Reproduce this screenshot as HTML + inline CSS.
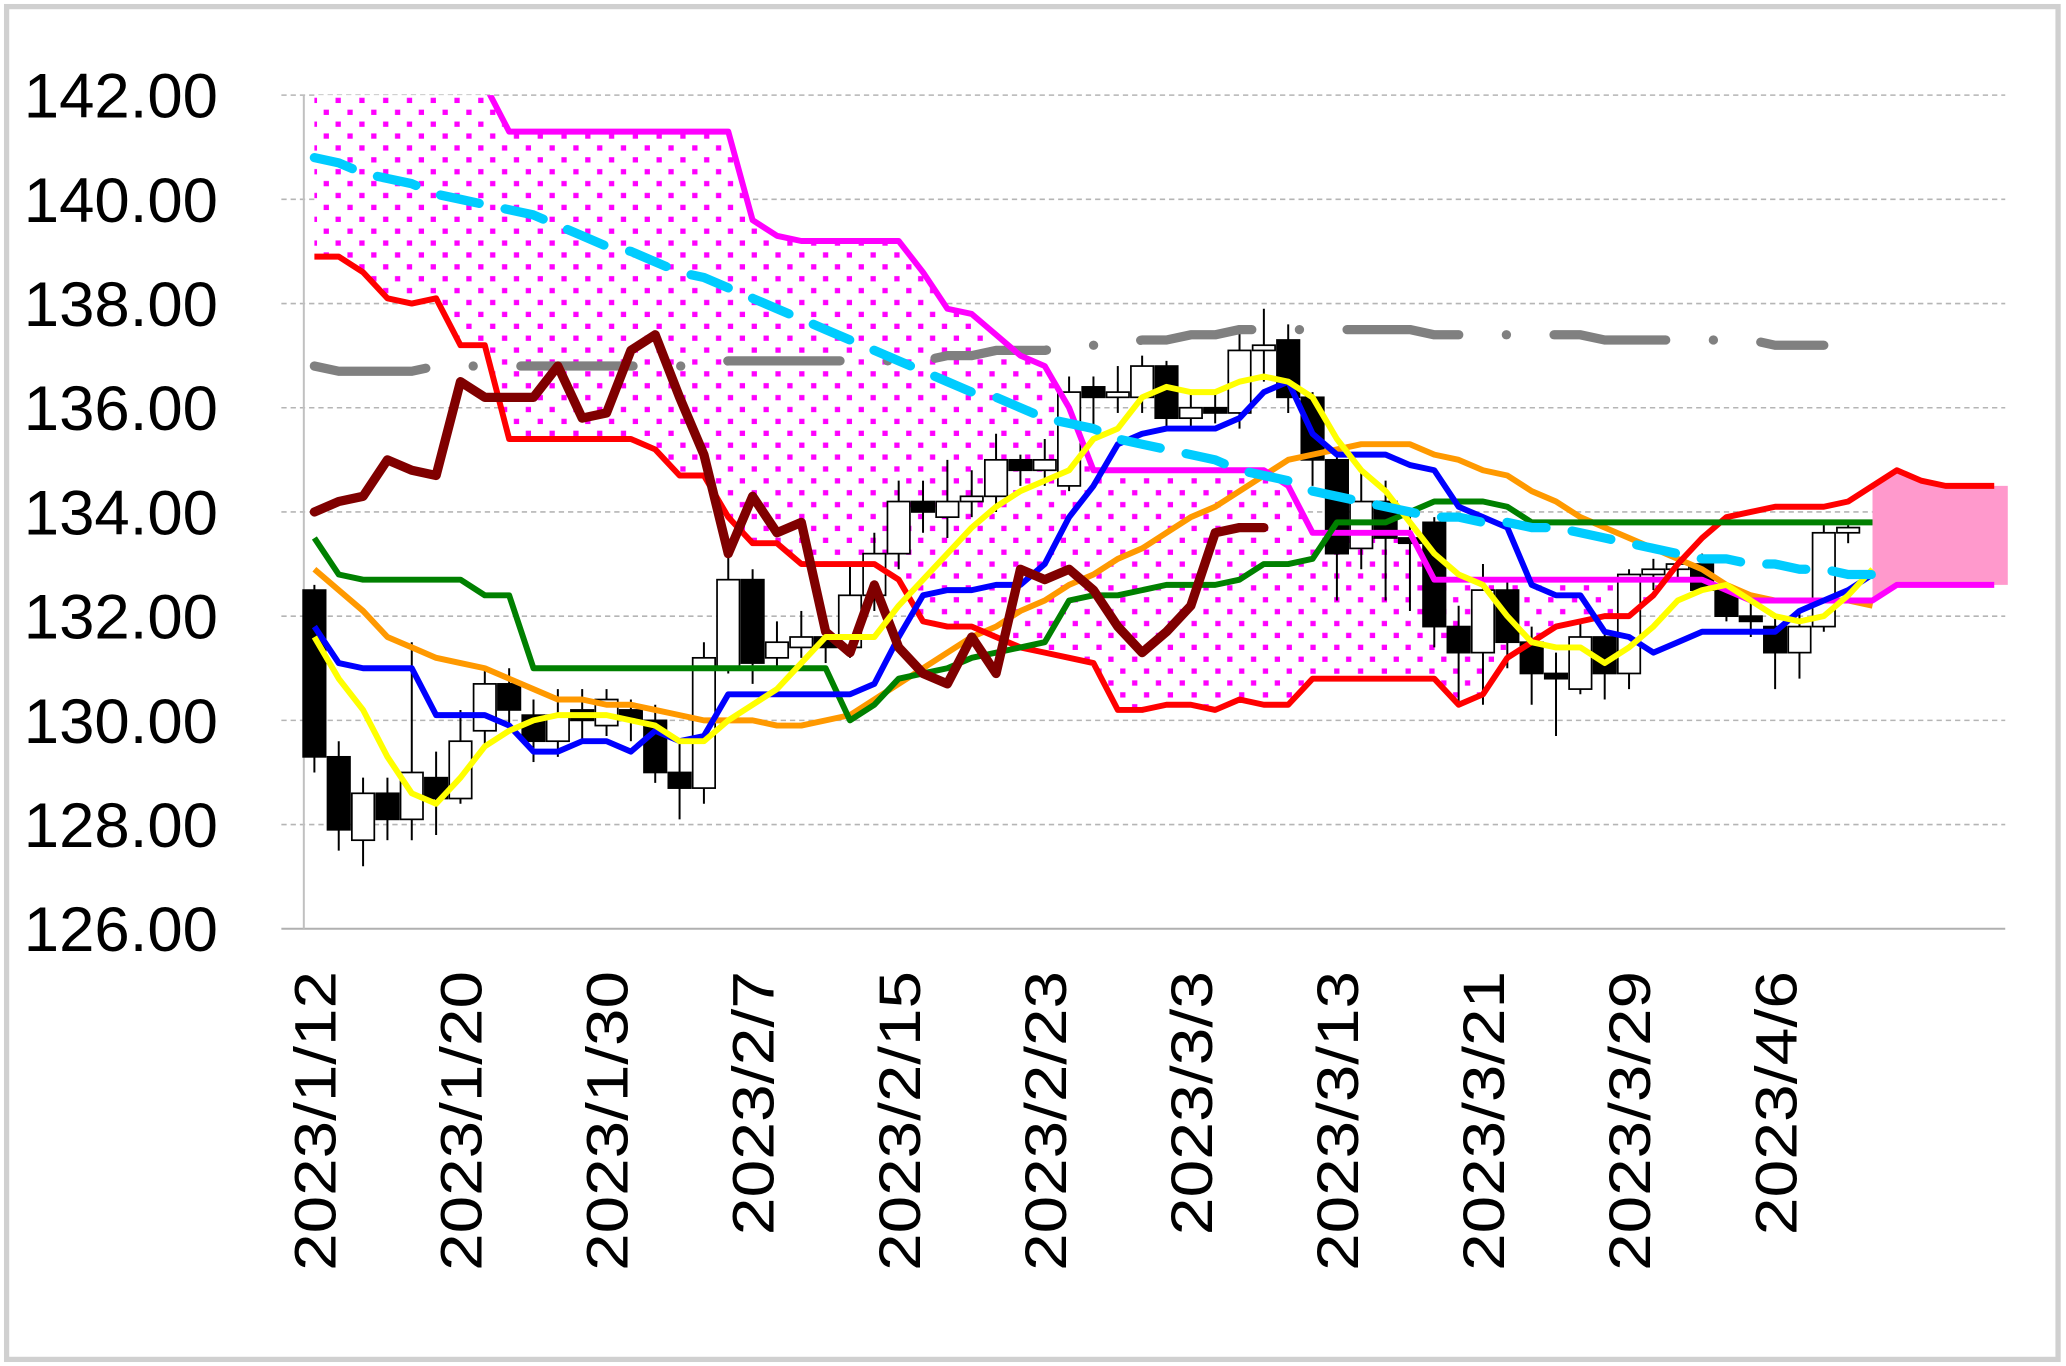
<!DOCTYPE html>
<html><head><meta charset="utf-8"><style>
html,body{margin:0;padding:0;background:#fff;}
svg{display:block;}
</style></head><body>
<svg id="chart" width="2066" height="1366" viewBox="0 0 1564 1034" preserveAspectRatio="none" xmlns="http://www.w3.org/2000/svg" font-family="'Liberation Sans', 'Noto Sans CJK JP', sans-serif">
<defs>
<pattern id="dots" width="18" height="18" patternUnits="userSpaceOnUse">
<rect width="18" height="18" fill="#fff"/>
<rect x="2" y="2" width="4" height="4" fill="#ff00ff"/>
<rect x="11" y="11" width="4" height="4" fill="#ff00ff"/>
</pattern>
<clipPath id="plotclip"><rect x="230" y="72" width="1290" height="632"/></clipPath>
</defs>
<rect x="5" y="5" width="1553" height="1024" fill="#fff" stroke="#d0d0d0" stroke-width="4"/>
<g id="grid"></g>
<g id="cloud" clip-path="url(#plotclip)"></g>
<g id="candles"></g>
<g id="lines" clip-path="url(#plotclip)"></g>
<g id="labels"></g>
</svg>
<script>
const yTicks = [142,140,138,136,134,132,130,128,126];
const dateLabels = ["2023/1/12","2023/1/20","2023/1/30","2023/2/7","2023/2/15","2023/2/23","2023/3/3","2023/3/13","2023/3/21","2023/3/29","2023/4/6"];
const openV  = [132.5,129.3,127.7,128.6,128.1,128.9,128.5,129.8,130.7,130.1,129.6,130.2,129.9,130.2,130.0,129.0,128.7,131.0,132.7,131.2,131.4,131.6,131.4,132.4,133.2,134.2,133.9,134.2,134.3,135.0,134.8,134.5,136.4,136.2,136.2,136.8,135.8,136.0,135.9,137.1,137.3,136.2,135.0,133.3,134.2,133.5,133.8,131.8,131.3,132.5,131.5,130.9,130.6,131.6,130.9,132.8,132.9,133.0,132.5,132.0,131.8,131.3,131.8,133.6];
const closeV = [129.3,127.9,128.6,128.1,129.0,128.5,129.6,130.7,130.2,129.6,130.1,130.0,130.4,130.0,129.0,128.7,131.2,132.7,131.1,131.5,131.6,131.4,132.4,133.2,134.2,134.0,134.2,134.3,135.0,134.8,135.0,136.3,136.2,136.3,136.8,135.8,136.0,135.9,137.1,137.2,136.2,135.0,133.2,134.2,133.5,133.4,131.8,131.3,132.5,131.5,130.9,130.8,131.6,130.9,132.8,132.9,133.0,132.5,132.0,131.9,131.3,131.8,133.6,133.7];
const highV  = [132.6,129.6,128.9,128.9,131.5,129.4,130.2,131.0,131.0,130.4,130.6,130.6,130.6,130.4,130.3,129.6,131.5,133.3,132.9,131.9,132.1,132.0,133.0,133.6,134.6,134.6,135.0,134.8,135.5,135.1,135.4,136.6,136.6,136.8,137.0,136.9,136.3,136.3,137.5,137.9,137.6,136.3,135.2,134.8,134.6,134.0,133.9,132.2,133.0,132.7,131.8,131.3,131.9,131.7,132.9,133.1,133.1,133.2,132.6,132.3,132.0,132.1,133.8,133.8];
const lowV   = [129.0,127.5,127.2,127.7,127.7,127.8,128.4,129.5,129.9,129.2,129.3,129.6,129.7,129.6,128.8,128.1,128.4,130.9,130.7,131.0,131.2,131.1,131.2,132.1,132.9,133.6,133.5,133.9,134.0,134.5,134.5,134.4,135.6,135.9,135.9,135.6,135.6,135.7,135.6,136.5,135.9,134.5,132.3,132.9,132.3,132.1,131.4,130.3,130.3,131.0,130.3,129.7,130.5,130.4,130.6,132.5,132.7,132.5,131.9,131.6,130.6,130.8,131.7,133.4];
const tenkan = [131.8,131.1,131.0,131.0,131.0,130.1,130.1,130.1,129.9,129.4,129.4,129.6,129.6,129.4,129.8,129.6,129.7,130.5,130.5,130.5,130.5,130.5,130.5,130.7,131.6,132.4,132.5,132.5,132.6,132.6,133.0,133.9,134.5,135.3,135.5,135.6,135.6,135.6,135.8,136.3,136.5,135.5,135.1,135.1,135.1,134.9,134.8,134.1,133.9,133.7,132.6,132.4,132.4,131.7,131.6,131.3,131.5,131.7,131.7,131.7,131.7,132.1,132.3,132.5,132.8];
const kijun = [133.5,132.8,132.7,132.7,132.7,132.7,132.7,132.4,132.4,131.0,131.0,131.0,131.0,131.0,131.0,131.0,131.0,131.0,131.0,131.0,131.0,131.0,130.0,130.3,130.8,130.9,131.0,131.2,131.3,131.4,131.5,132.3,132.4,132.4,132.5,132.6,132.6,132.6,132.7,133.0,133.0,133.1,133.8,133.8,133.8,134.0,134.2,134.2,134.2,134.1,133.8,133.8,133.8,133.8,133.8,133.8,133.8,133.8,133.8,133.8,133.8,133.8,133.8,133.8,133.8];
const spanA = [138.9,138.9,138.6,138.1,138.0,138.1,137.2,137.2,135.4,135.4,135.4,135.4,135.4,135.4,135.2,134.7,134.7,133.9,133.4,133.4,133.0,133.0,133.0,133.0,132.7,131.9,131.8,131.8,131.6,131.4,131.3,131.2,131.1,130.2,130.2,130.3,130.3,130.2,130.4,130.3,130.3,130.8,130.8,130.8,130.8,130.8,130.8,130.3,130.5,131.2,131.5,131.8,131.9,132.0,132.0,132.4,133.0,133.5,133.9,134.0,134.1,134.1,134.1,134.2,134.5,134.8,134.6,134.5,134.5,134.5];
const spanB = [143.5,143.5,143.5,143.5,143.5,143.5,143.5,142.2,141.3,141.3,141.3,141.3,141.3,141.3,141.3,141.3,141.3,141.3,139.6,139.3,139.2,139.2,139.2,139.2,139.2,138.6,137.9,137.8,137.4,137.0,136.8,136.0,134.8,134.8,134.8,134.8,134.8,134.8,134.8,134.8,134.5,133.6,133.6,133.6,133.6,133.6,132.7,132.7,132.7,132.7,132.7,132.7,132.7,132.7,132.7,132.7,132.7,132.7,132.5,132.3,132.3,132.3,132.3,132.3,132.3,132.6,132.6,132.6,132.6,132.6];
const chikou = [134.0,134.2,134.3,135.0,134.8,134.7,136.5,136.2,136.2,136.2,136.8,135.8,135.9,137.1,137.4,136.2,135.1,133.2,134.3,133.6,133.8,131.7,131.3,132.6,131.4,130.9,130.7,131.6,130.9,132.9,132.7,132.9,132.5,131.8,131.3,131.7,132.2,133.6,133.7,133.7];
const ma5 = [131.6,130.8,130.2,129.3,128.6,128.4,128.9,129.5,129.8,130.0,130.1,130.1,130.1,130.0,129.9,129.6,129.6,130.0,130.3,130.6,131.1,131.6,131.6,131.6,132.2,132.7,133.2,133.7,134.1,134.4,134.6,134.8,135.4,135.6,136.2,136.4,136.3,136.3,136.5,136.6,136.5,136.2,135.4,134.8,134.4,133.8,133.2,132.8,132.6,132.0,131.5,131.4,131.4,131.1,131.4,131.8,132.3,132.5,132.6,132.3,132.0,131.9,132.0,132.4,132.9];
const ma25 = [132.9,132.5,132.1,131.6,131.4,131.2,131.1,131.0,130.8,130.6,130.4,130.4,130.3,130.3,130.2,130.1,130.0,130.0,130.0,129.9,129.9,130.0,130.1,130.4,130.7,131.0,131.3,131.6,131.8,132.1,132.3,132.6,132.8,133.1,133.3,133.6,133.9,134.1,134.4,134.7,135.0,135.1,135.2,135.3,135.3,135.3,135.1,135.0,134.8,134.7,134.4,134.2,133.9,133.7,133.5,133.3,133.1,132.9,132.6,132.4,132.3,132.3,132.3,132.3,132.2];
const ma75 = [140.8,140.7,140.5,140.4,140.3,140.1,140.0,139.9,139.8,139.7,139.5,139.3,139.1,139.0,138.8,138.6,138.5,138.3,138.1,137.9,137.7,137.5,137.3,137.1,136.9,136.7,136.5,136.3,136.2,136.0,135.8,135.7,135.6,135.4,135.3,135.2,135.1,135.0,134.8,134.7,134.6,134.4,134.3,134.2,134.1,134.0,133.9,133.9,133.8,133.8,133.7,133.7,133.6,133.5,133.4,133.3,133.2,133.1,133.1,133.0,133.0,132.9,132.9,132.8,132.8];
const ma200 = [136.8,136.7,136.7,136.7,136.7,136.8,136.8,136.8,136.8,136.8,136.8,136.8,136.8,136.8,136.8,136.8,136.8,136.9,136.9,136.9,136.9,136.9,136.9,136.9,136.9,136.9,137.0,137.0,137.1,137.1,137.1,137.2,137.2,137.2,137.3,137.3,137.4,137.4,137.5,137.5,137.5,137.5,137.5,137.5,137.5,137.5,137.4,137.4,137.4,137.4,137.4,137.4,137.4,137.3,137.3,137.3,137.3,137.3,137.3,137.3,137.2,137.2,137.2];

const NS="http://www.w3.org/2000/svg";
const X0=238, DX=18.43, YTOP=72, YPER=39.44;
function xS(i){return X0+i*DX;}
function yS(v){return YTOP+(142-v)*YPER;}
function mk(tag,attrs,parent){const e=document.createElementNS(NS,tag);for(const k in attrs)e.setAttribute(k,attrs[k]);parent.appendChild(e);return e;}
const grid=document.getElementById('grid'),cloud=document.getElementById('cloud'),cg=document.getElementById('candles'),lg=document.getElementById('lines'),lab=document.getElementById('labels');

yTicks.forEach(v=>{
  const y=yS(v);
  if(v>126){const l=mk('line',{x1:213,x2:1518,y1:y,y2:y,stroke:'#b5b5b5','stroke-width':1.2,'stroke-dasharray':'4 3'},grid);
  
  }
  const t=mk('text',{x:165,y:y+17,'text-anchor':'end','font-size':48,textLength:147,lengthAdjust:'spacingAndGlyphs',fill:'#000'},lab);
  t.textContent=v.toFixed(2);
  
  
});
const ax=mk('line',{x1:213,x2:1518,y1:yS(126),y2:yS(126),stroke:'#b0b0b0','stroke-width':1.5},grid);


const ay=mk('line',{x1:230,x2:230,y1:72,y2:yS(126),stroke:'#c0c0c0','stroke-width':1.5},grid);



dateLabels.forEach((d,k)=>{
  const x=xS(k*6)+16, y=735;
  const len=d.length>=9?227:200;
  const t=mk('text',{x:0,y:0,'text-anchor':'end','font-size':44,textLength:len,lengthAdjust:'spacingAndGlyphs',fill:'#000',transform:`translate(${x},${y}) rotate(-90)`},lab);
  t.textContent=d;
  
  
});

(function(){
  let up=[],lo=[];
  for(let i=0;i<spanA.length;i++){up.push(xS(i)+','+yS(spanB[i]));lo.push(xS(i)+','+yS(Math.min(spanA[i],spanB[i])));}
  const last=spanA.length-1;
  up.push('1520,'+yS(spanB[last]));lo.push('1520,'+yS(Math.min(spanA[last],spanB[last])));
  const p=mk('polygon',{points:up.concat(lo.reverse()).join(' '),fill:'url(#dots)'},cloud);
  
  
  let u2=[],l2=[];
  for(let i=64;i<spanA.length;i++){u2.push(xS(i)+','+yS(Math.max(spanA[i],spanB[i])));l2.push(xS(i)+','+yS(spanB[i]));}
  u2.push('1520,'+yS(Math.max(spanA[last],spanB[last])));l2.push('1520,'+yS(spanB[last]));
  const p2=mk('polygon',{points:u2.concat(l2.reverse()).join(' '),fill:'#ff99cc'},cloud);
  
  
})();

for(let i=0;i<openV.length;i++){
  const x=xS(i);
  const w=mk('line',{x1:x,x2:x,y1:yS(highV[i]),y2:yS(lowV[i]),stroke:'#000','stroke-width':1.5},cg);
  
  
  const top=yS(Math.max(openV[i],closeV[i])), bot=yS(Math.min(openV[i],closeV[i]));
  const down=openV[i]>closeV[i];
  const r=mk('rect',{x:x-8.5,y:top,width:17,height:Math.max(1.5,bot-top),fill:down?'#000':'#fff',stroke:'#000','stroke-width':1.3},cg);
  
  
}

function series(arr,color,width,name,dash,cap){
  const pts=arr.map((v,i)=>xS(i)+','+yS(v)).join(' ');
  const a={points:pts,fill:'none',stroke:color,'stroke-width':width,'stroke-linejoin':'round','stroke-linecap':cap||'butt'};
  if(dash)a['stroke-dasharray']=dash;
  const p=mk('polyline',a,lg);
  
  
}
series(ma200,'#808080',7,'ma-200-line','85 36 0.1 36','round');
series(ma25,'#ff9900',4.5,'ma-25-line');
series(spanB,'#ff00ff',4.5,'senkou-span-b');
series(spanA,'#ff0000',4.5,'senkou-span-a');
series(kijun,'#008000',4.5,'kijun-line');
series(tenkan,'#0000ff',4.5,'tenkan-line');
series(chikou,'#800000',7,'chikou-span',null,'round');
series(ma5,'#ffff00',4.5,'ma-5-line');
series(ma75,'#00ccff',7,'ma-75-line','30 20','round');
</script>
</body></html>
